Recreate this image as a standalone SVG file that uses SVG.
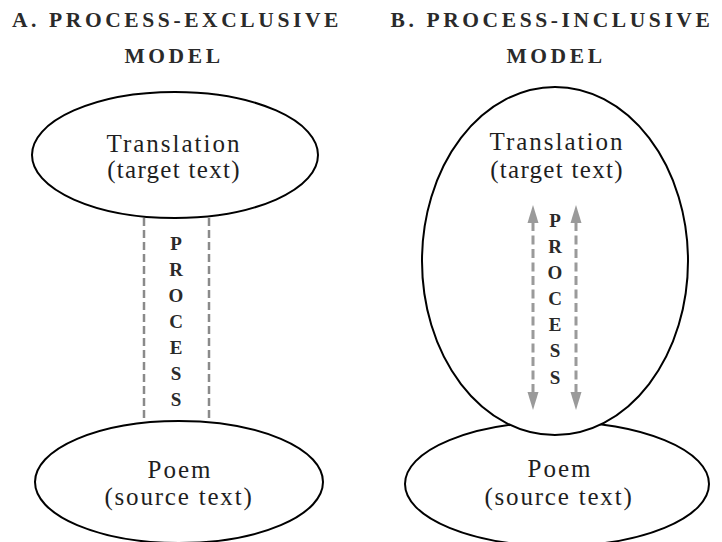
<svg xmlns="http://www.w3.org/2000/svg" width="722" height="542" viewBox="0 0 722 542">
<defs>
<style>
.title{font-family:"Liberation Serif","Times New Roman",serif;font-size:21.5px;font-weight:bold;fill:#2a2a2a;letter-spacing:3.6px;text-anchor:middle}
.node{fill:#fff;stroke:#000;stroke-width:2}
.lbl{font-family:"Liberation Serif","Times New Roman",serif;font-size:25px;fill:#1e1e1e;text-anchor:middle}
.proc{font-family:"Liberation Serif","Times New Roman",serif;font-size:19px;font-weight:bold;fill:#2a2a2a;text-anchor:middle}
.dash{stroke:#8a8a8a;stroke-width:2.5;stroke-dasharray:8 4;fill:none}
.dashb{stroke:#9a9a9a;stroke-width:3;stroke-dasharray:9 4.5;fill:none}
.head{fill:#9a9a9a}
</style>
</defs>
<rect width="722" height="542" fill="#fff"/>
<g id="titles">
<text class="title" x="177" y="27">A. PROCESS-EXCLUSIVE</text>
<text class="title" x="174" y="63">MODEL</text>
<text class="title" x="552" y="27">B. PROCESS-INCLUSIVE</text>
<text class="title" x="556" y="63">MODEL</text>
</g>
<g id="connectors">
<line class="dash" x1="144" y1="218" x2="144" y2="421"/>
<line class="dash" x1="209" y1="218" x2="209" y2="421"/>
</g>
<g id="a-translation">
<ellipse class="node" cx="175" cy="155" rx="143" ry="63"/>
<text class="lbl" x="174" y="152" letter-spacing="2">Translation</text>
<text class="lbl" x="174" y="178" letter-spacing="1.3">(target text)</text>
</g>
<g id="a-process">
<text class="proc" x="176" y="250">P</text>
<text class="proc" x="176" y="276">R</text>
<text class="proc" x="176" y="302">O</text>
<text class="proc" x="176" y="328">C</text>
<text class="proc" x="176" y="354">E</text>
<text class="proc" x="176" y="380">S</text>
<text class="proc" x="176" y="406">S</text>
</g>
<g id="a-poem">
<ellipse class="node" cx="179" cy="482" rx="144" ry="61"/>
<text class="lbl" x="180" y="478" letter-spacing="2">Poem</text>
<text class="lbl" x="179" y="505" letter-spacing="1.8">(source text)</text>
</g>
<g id="b-poem">
<ellipse class="node" cx="557" cy="484" rx="152" ry="62"/>
<text class="lbl" x="560" y="477" letter-spacing="2">Poem</text>
<text class="lbl" x="559" y="505" letter-spacing="1.8">(source text)</text>
</g>
<g id="b-translation">
<ellipse class="node" cx="555" cy="261" rx="133" ry="174"/>
<text class="lbl" x="557" y="150" letter-spacing="2">Translation</text>
<text class="lbl" x="557" y="178" letter-spacing="1.3">(target text)</text>
</g>
<g id="b-connectors">
<line class="dashb" x1="533" y1="222" x2="533" y2="393"/>
<line class="dashb" x1="576" y1="222" x2="576" y2="393"/>
<polygon class="head" points="533,205 538.5,223 527.5,223"/>
<polygon class="head" points="533,410 538.5,392 527.5,392"/>
<polygon class="head" points="576,205 581.5,223 570.5,223"/>
<polygon class="head" points="576,410 581.5,392 570.5,392"/>
</g>
<g id="b-process">
<text class="proc" x="555" y="227">P</text>
<text class="proc" x="555" y="253">R</text>
<text class="proc" x="555" y="279">O</text>
<text class="proc" x="555" y="305">C</text>
<text class="proc" x="555" y="331">E</text>
<text class="proc" x="555" y="357">S</text>
<text class="proc" x="555" y="384">S</text>
</g>
</svg>
